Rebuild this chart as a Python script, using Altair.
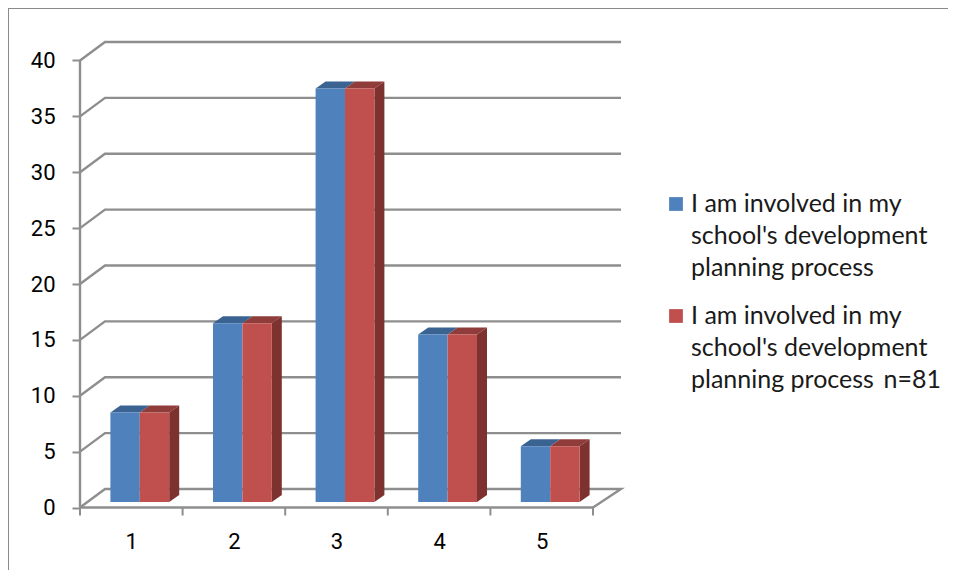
import altair as alt
import pandas as pd

categories = [1, 2, 3, 4, 5]
series_a = [8, 16, 37, 15, 5]
series_b = [8, 16, 37, 15, 5]
y_ticks = [0, 5, 10, 15, 20, 25, 30, 35, 40]
legend_labels = [
    "I am involved in my|school's development|planning process",
    "I am involved in my|school's development|planning process\u2009 n=81",
]

BLUE, RED = "#4F81BD", "#C0504D"
BLUE_TOP, RED_TOP, RED_SIDE = "#3B6392", "#8F3C3A", "#7D3230"
GRID = "#8E8E8E"
FONT = "Lato"
TICK_FONT = "Roboto"

W, H = 940, 562
PX_CAT, PX_VAL = 102.6, 11.175      # pixels per category / per value unit
X0, Y0 = 72.0, 499.5                # plot position of axis origin


def ux(px):
    return px / PX_CAT


def uy(px):
    return px / PX_VAL


x_scale = alt.Scale(domain=[0.5 - ux(X0), 0.5 + ux(W - X0)], nice=False, zero=False)
y_scale = alt.Scale(domain=[-uy(H - Y0), uy(Y0)], nice=False, zero=False)

x_axis = alt.Axis(values=categories, offset=-(H - Y0), tickSize=0, domain=False, grid=False, title=None,
                  labelFont=TICK_FONT, labelFontSize=22, labelColor="#000000", labelPadding=24,
                  format="d", labelFlush=False, labelOverlap=False)
y_axis = alt.Axis(values=y_ticks, offset=-X0, tickSize=8, tickWidth=2, tickColor=GRID, domain=False, title=None,
                  grid=False, labelFont=TICK_FONT, labelFontSize=22, labelColor="#000000", labelPadding=17,
                  format="d", labelOverlap=False)

WALL_X_LEFT, WALL_X_RIGHT, WALL_Y = ux(25), ux(28), uy(18.5)   # depth of the chart box
BAR_X, BAR_Y = ux(10), uy(7)        # depth of a bar
SHIFT_X, SHIFT_Y = ux(8.5), uy(5.5) # bars stand slightly inside the floor
BAR_W = ux(29.4)
LEFT, RIGHT = 0.5, 5.5

# --- gridlines running along the side wall and the back wall
grid_rows = []
for v in y_ticks:
    grid_rows.append(dict(g=v, o=0, x=LEFT, y=v))
    grid_rows.append(dict(g=v, o=1, x=LEFT + WALL_X_LEFT, y=v + WALL_Y))
    grid_rows.append(dict(g=v, o=2, x=RIGHT + WALL_X_RIGHT, y=v + WALL_Y))
grid_rows.append(dict(g=0, o=3, x=RIGHT, y=0))
grid_df = pd.DataFrame(grid_rows)

# --- bar faces
front, faces = [], []
for c, a, b in zip(categories, series_a, series_b):
    l = c + SHIFT_X - BAR_W
    m = c + SHIFT_X
    r = c + SHIFT_X + BAR_W
    for name, v, x1, x2, top in (("a", a, l, m, BLUE_TOP), ("b", b, m, r, RED_TOP)):
        t = v + SHIFT_Y
        front.append(dict(x=x1, x2=x2, y=SHIFT_Y, y2=t, s=name))
        fid = f"{c}{name}top"
        faces += [
            dict(id=fid, fill=top, x=x1, y=t, y2=t),
            dict(id=fid, fill=top, x=x1 + BAR_X, y=t + BAR_Y, y2=t),
            dict(id=fid, fill=top, x=x2, y=t + BAR_Y, y2=t),
            dict(id=fid, fill=top, x=x2 + BAR_X, y=t + BAR_Y, y2=t + BAR_Y),
        ]
    t = b + SHIFT_Y
    fid = f"{c}side"
    faces += [
        dict(id=fid, fill=RED_SIDE, x=r, y=t, y2=SHIFT_Y),
        dict(id=fid, fill=RED_SIDE, x=r + BAR_X, y=t + BAR_Y, y2=SHIFT_Y + BAR_Y),
    ]
front_df = pd.DataFrame(front)
faces_df = pd.DataFrame(faces)

X = lambda f="x": alt.X(f"{f}:Q", scale=x_scale, axis=x_axis)
Y = lambda f="y": alt.Y(f"{f}:Q", scale=y_scale, axis=y_axis)

grid = alt.Chart(grid_df).mark_line(color=GRID, strokeWidth=2.4).encode(
    x=X(), y=Y(), detail="g:N", order="o:Q",
)

faces_layer = alt.Chart(faces_df).mark_area(opacity=1).encode(
    x=X(), y=Y(), y2="y2:Q", detail="id:N",
    color=alt.Color("fill:N", scale=None),
)

bars = alt.Chart(front_df).mark_rect().encode(
    x=X(), x2="x2:Q", y=Y(), y2="y2:Q",
    color=alt.Color("s:N", scale=alt.Scale(domain=["a", "b"], range=[BLUE, RED]), legend=None),
)

axis_y = alt.Chart(pd.DataFrame([dict(x=LEFT, y=0, y2=y_ticks[-1])])).mark_rule(color=GRID, strokeWidth=2.4).encode(
    x=X(), y=Y(), y2="y2:Q"
)
axis_x = alt.Chart(pd.DataFrame([dict(x=LEFT, x2=RIGHT, y=0)])).mark_rule(color=GRID, strokeWidth=2.4).encode(
    x=X(), x2="x2:Q", y=Y()
)
x_ticks = alt.Chart(pd.DataFrame(dict(x=[c - 0.5 for c in categories] + [RIGHT], y=[0.0] * 6, y2=[-uy(8)] * 6))).mark_rule(
    color=GRID, strokeWidth=2
).encode(x=X(), y=Y(), y2="y2:Q")

frame_top = alt.Chart(pd.DataFrame([dict(a=1)])).mark_rule(color="#8A8A8A", strokeWidth=2).encode(
    x=alt.value(0), x2=alt.value(W), y=alt.value(0)
)
frame_left = alt.Chart(pd.DataFrame([dict(a=1)])).mark_rule(color="#8A8A8A", strokeWidth=2).encode(
    x=alt.value(0), y=alt.value(0), y2=alt.value(H)
)

legend_layers = []
for label, col, sy in zip(legend_labels, [BLUE, RED], [196, 308]):
    d = pd.DataFrame([dict(label=label)])
    legend_layers.append(
        alt.Chart(d).mark_square(size=190, color=col, opacity=1).encode(x=alt.value(668), y=alt.value(sy))
    )
    legend_layers.append(
        alt.Chart(d).mark_text(
            align="left", baseline="middle", lineBreak="|", lineHeight=32,
            font=FONT, fontSize=25, color="#1A1A1A",
        ).encode(x=alt.value(683), y=alt.value(sy), text="label:N")
    )

chart = alt.layer(
    grid, faces_layer, bars, axis_y, axis_x, x_ticks, frame_top, frame_left, *legend_layers
).properties(
    width=W, height=H, padding=0, autosize=alt.AutoSizeParams(type="none")
).configure_view(stroke=None).configure(background="#FFFFFF")

chart.save("out.html", embed_options={"renderer": "svg", "actions": False})
